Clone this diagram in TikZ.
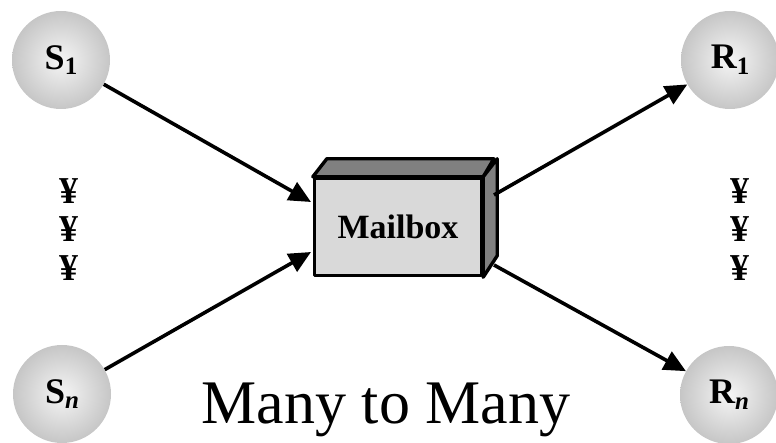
\documentclass[tikz,border=0pt]{standalone}
\usepackage{fontspec}
\setmainfont{Liberation Serif}
\usetikzlibrary{arrows.meta}
\definecolor{ballin}{HTML}{F5F5F5}
\definecolor{ballout}{HTML}{C6C6C6}
\definecolor{boxfront}{HTML}{D9D9D9}
\definecolor{boxside}{HTML}{808080}
\tikzset{
  proc/.style={circle, minimum size=98pt, inner sep=0pt,
    inner color=ballin, outer color=ballout,
    font=\fontsize{36}{36}\selectfont\bfseries},
  flow/.style={line width=3.6pt, -{Triangle[length=22pt,width=20pt]}},
  yen/.style={font=\fontsize{38}{38}\selectfont\bfseries, inner sep=0pt},
  face/.style={draw=black, line width=3.4pt, line join=round}
}
\newcommand{\lowsub}[1]{\raisebox{-0.35ex}{\fontsize{25}{25}\selectfont #1}}

\begin{document}
\begin{tikzpicture}[x=1pt,y=-1pt]
\useasboundingbox (0,0) rectangle (776,443);

% senders and receivers
\node[proc] (s1) at (61,60)  {S\lowsub{1}};
\node[proc] (sn) at (62,394) {S\lowsub{\itshape n}};
\node[proc] (r1) at (730,60) {R\lowsub{1}};
\node[proc] (rn) at (729,395) {R\lowsub{\itshape n}};

% vertical ellipsis marks
\node[yen] (l1) at (69,191) {¥};
\node[yen] (l2) at (69,229) {¥};
\node[yen] (l3) at (69,268) {¥};
\node[yen] (q1) at (740,191) {¥};
\node[yen] (q2) at (740,229) {¥};
\node[yen] (q3) at (740,268) {¥};

% the mailbox as a 3-D box
\node[face, fill=boxfront, minimum width=167pt, minimum height=97pt,
      inner sep=0pt, font=\fontsize{34}{34}\selectfont\bfseries] (mb) at (398,227) {Mailbox};
\filldraw[face, fill=boxside] (mb.north west) -- ++(14,-18) -- ++(167,0)
  -- (mb.north east) -- cycle;
\filldraw[face, fill=boxside] (mb.north east) -- ++(14,-18) -- ++(0,97)
  -- (mb.south east) -- cycle;

% connector ends on the mailbox
\coordinate (in1)  at (311,202);
\coordinate (in2)  at (311,252);
\coordinate (out1) at (494,195);
\coordinate (out2) at (494,265);

\draw[flow] (s1) -- (in1);
\draw[flow] (sn) -- (in2);
\draw[flow] (out1) -- (r1);
\draw[flow] (out2) -- (rn);

% caption
\node[anchor=base, inner sep=0pt, font=\fontsize{62}{62}\selectfont] (cap) at (386,423) {Many to Many};
\end{tikzpicture}
\end{document}
